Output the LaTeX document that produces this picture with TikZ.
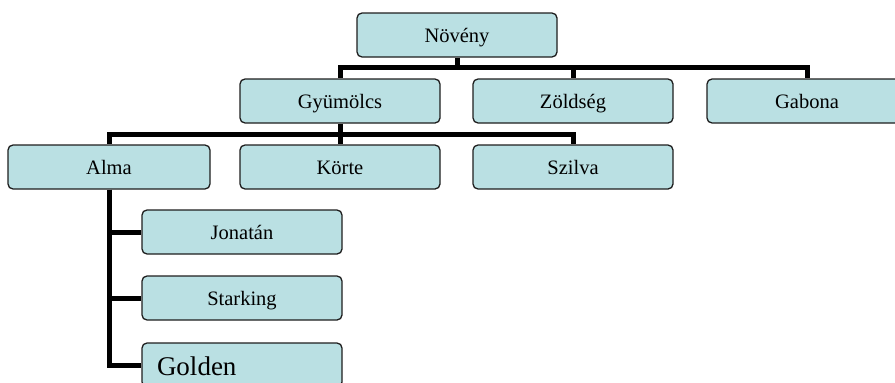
\documentclass[tikz,border=0pt]{standalone}
\usepackage{fontspec}
\setmainfont{Liberation Serif}
\definecolor{boxfill}{RGB}{186,224,227}
\definecolor{boxline}{RGB}{30,30,30}
\pgfdeclarelayer{lines}
\pgfsetlayers{lines,main}
\tikzset{
  orgbox/.style={draw=boxline, line width=1.3pt, fill=boxfill, rounded corners=5pt,
    minimum width=200pt, minimum height=44pt, inner sep=0pt, text=black,
    text height=19pt, text depth=5pt,
    font=\fontsize{20.5}{24}\selectfont},
  link/.style={draw=black, line width=5pt, line join=miter}
}
\begin{document}
\begin{tikzpicture}[x=1pt,y=-1pt]
  \useasboundingbox (0,0) rectangle (895,383);
  \clip (0,0) rectangle (895,383);

  % junction points of the tree
  \coordinate (top) at (457,67);
  \coordinate (mid) at (340,134);

  % boxes
  \node[orgbox] (nov) at (457,35)  {Növény};
  \node[orgbox] (gyu) at (340,101) {Gyümölcs};
  \node[orgbox] (zol) at (573,101) {Zöldség};
  \node[orgbox] (gab) at (807,101) {Gabona};
  \node[orgbox, minimum width=202pt] (alm) at (109,167) {Alma};
  \node[orgbox] (kor) at (340,167) {Körte};
  \node[orgbox] (szi) at (573,167) {Szilva};
  \node[orgbox] (jon) at (242,232) {Jonatán};
  \node[orgbox] (sta) at (242,298) {Starking};
  \node[orgbox, text width=170pt, align=left, inner xsep=15pt,
        text height=25pt, text depth=5pt,
        font=\fontsize{27}{30}\selectfont] (gol) at (242,365) {Golden};

  % tree lines, beneath the boxes
  \begin{pgfonlayer}{lines}
    \draw[link] (nov.south) -- (top) -| (gyu.north);
    \draw[link] (top) -| (zol.north);
    \draw[link] (top) -| (gab.north);
    \draw[link] (gyu.south) -- (mid) -| (alm.north);
    \draw[link] (mid) -| (kor.north);
    \draw[link] (mid) -| (szi.north);
    \draw[link] (alm.south) |- (jon.west);
    \draw[link] (alm.south) |- (sta.west);
    \draw[link] (alm.south) |- (gol.west);
  \end{pgfonlayer}
\end{tikzpicture}
\end{document}
